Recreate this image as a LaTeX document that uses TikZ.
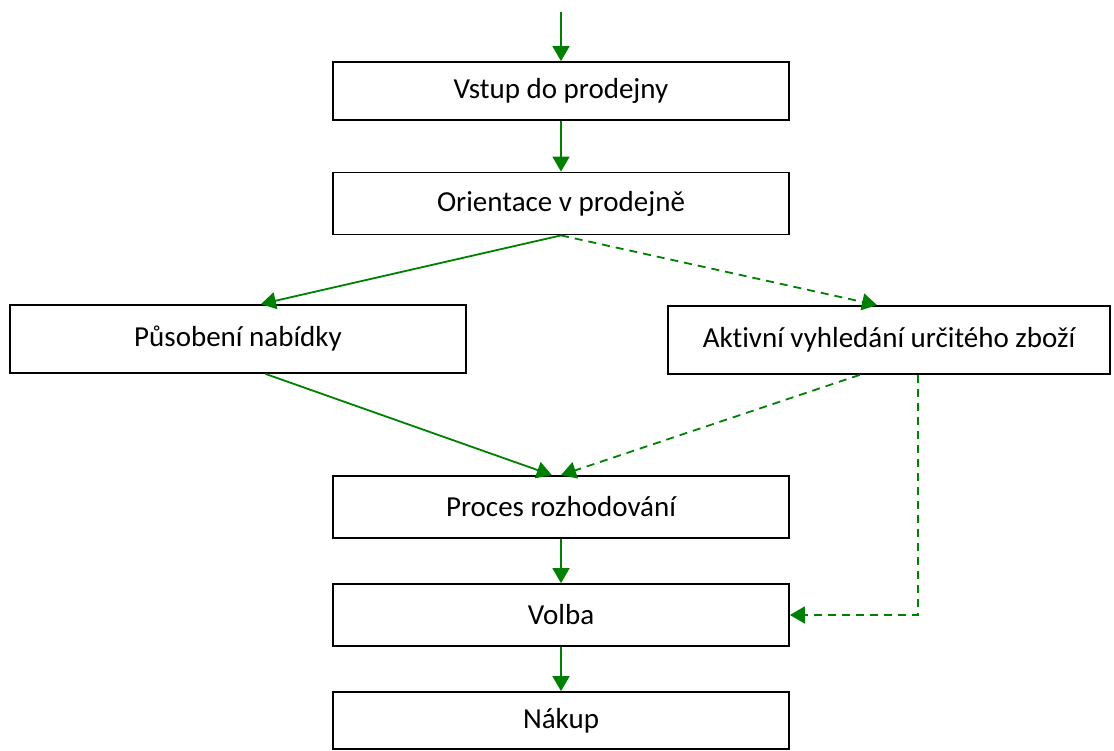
\documentclass[tikz,border=0pt]{standalone}
\usepackage{fontspec}
\setmainfont{Carlito}[Ligatures=NoCommon]
\usetikzlibrary{arrows.meta,calc}
\definecolor{arrgreen}{RGB}{0,128,0}
\tikzset{
  box/.style={draw=black, line width=1.8pt, minimum width=456pt, inner sep=0pt, font=\fontsize{29}{34}\selectfont},
  flow/.style={draw=arrgreen, line width=1.8pt, -{Triangle[width=17pt,length=15pt]}, arrgreen},
  flowd/.style={flow, dash pattern=on 8pt off 6pt},
}
\begin{document}
\begin{tikzpicture}[x=1pt,y=-1pt]
\useasboundingbox (0,0) rectangle (1114,751);
\node[box, minimum height=58pt] (b1) at (561,91) {Vstup do prodejny};
\node[box, minimum height=62pt] (b2) at (561,203.5) {Orientace v prodejně};
\node[box, minimum height=68pt] (b3) at (238,339) {Působení nabídky};
\node[box, minimum height=68pt, minimum width=442pt] (b4) at (889,340) {Aktivní vyhledání určitého zboží};
\node[box, minimum height=62pt] (b5) at (561,507) {Proces rozhodování};
\node[box, minimum height=62pt] (b6) at (561,615) {Volba};
\node[box, minimum height=57pt] (b7) at (561,720.5) {Nákup};
\coordinate (start) at (561,12);
\draw[flow] (start) -- (b1.north);
\draw[flow] (b1.south) -- (b2.north);
\draw[flow] (b2.south) -- ($(b3.north west)!0.55!(b3.north east)$);
\draw[flowd] (b2.south) -- ($(b4.north west)!0.473!(b4.north east)$);
\draw[flow] ($(b3.south west)!0.56!(b3.south east)$) -- ($(b5.north west)!0.48!(b5.north east)$);
\draw[flowd] ($(b4.south west)!0.434!(b4.south east)$) -- (b5.north);
\draw[flow] (b5.south) -- (b6.north);
\draw[flowd] ($(b4.south west)!0.566!(b4.south east)$) |- (b6.east);
\draw[flow] (b6.south) -- (b7.north);
\end{tikzpicture}
\end{document}
